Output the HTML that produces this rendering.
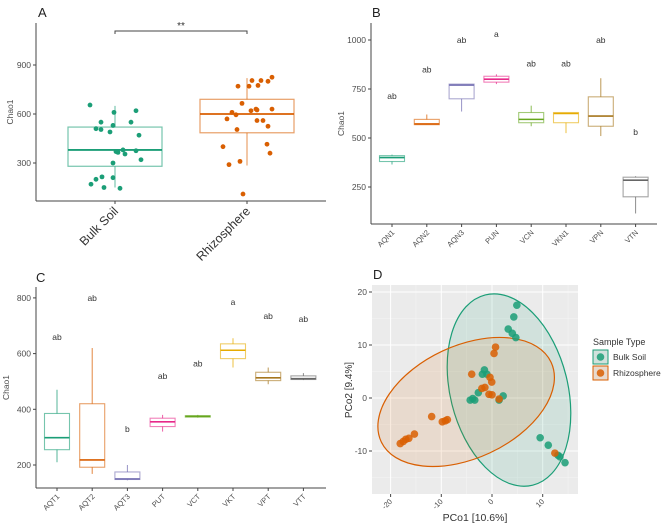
<!DOCTYPE html>
<html><head><meta charset="utf-8"><style>
body{margin:0;background:#fff;}
svg{display:block;font-family:"Liberation Sans",sans-serif;}
</style></head><body>
<svg id="fig" width="669" height="531" viewBox="0 0 669 531"></svg>
<script>
// ---------- Panel A data ----------
const aCats=["Bulk Soil","Rhizosphere"];
const aStats=[[150,280,380,520,650],[285,485,600,690,820]];
const aBulk=[655,510,505,550,610,530,490,620,550,470,370,365,380,355,375,320,300,210,215,200,170,150,145];
const aBulkJit=[-25,-19,-14,-14,-1,-2,-5,21,16,24,1,3,8,10,21,26,-2,-2,-13,-19,-24,-11,5];
const aRhizo=[770,770,805,775,805,800,825,665,610,595,570,620,630,625,630,560,560,525,505,400,415,360,310,290,110];
const aRhizoJit=[-9,2,5,11,14,21,25,-5,-15,-11,-20,4,9,10,25,10,16,21,-10,-24,20,23,-7,-18,-4];
const aTicks=[300,600,900];
// ---------- Panel B data ----------
const bCats=["AQN1","AQN2","AQN3","PUN","VCN","VKN1","VPN","VTN"];
const bStats=[[365,380,400,410,415],[568,568,572,595,620],[635,700,770,775,775],[775,785,800,815,825],[560,578,595,630,665],[525,578,625,630,630],[510,560,612,710,805],[115,200,285,300,305]];
const bLetters=["ab","ab","ab","a","ab","ab","ab","b"];
const bLetterY=[714,850,1000,1030,880,880,1000,530];
const bTicks=[250,500,750,1000];
// ---------- Panel C data ----------
const cCats=["AQT1","AQT2","AQT3","PUT","VCT","VKT","VPT","VTT"];
const cStats=[[210,255,298,385,470],[168,192,218,420,620],[145,148,150,175,200],[320,338,355,368,380],[370,372,375,377,380],[550,582,612,635,655],[490,503,513,533,550],[505,507,510,520,530]];
const cLetters=["ab","ab","b","ab","ab","a","ab","ab"];
const cLetterY=[660,800,330,520,565,785,735,725];
const cTicks=[200,400,600,800];
// ---------- Panel D data ----------
const dBulkX=[4.9,4.3,3.2,4.0,4.7,-1.5,-1.9,-1.0,-2.7,-4.3,-3.4,-3.8,2.2,1.4,9.5,11.1,13.0,13.4,14.4];
const dBulkY=[17.5,15.3,13,12.2,11.4,5.3,4.5,4.5,1.0,-0.4,-0.4,-0.1,0.4,-0.4,-7.5,-8.9,-10.8,-11.1,-12.2];
const dRhizoX=[0.7,0.4,-4.0,-0.4,-0.05,-1.4,-2.0,-0.6,0.0,1.4,-11.9,-9.8,-9.2,-8.8,-15.3,-16.4,-17.0,-17.5,-18.1,12.4];
const dRhizoY=[9.6,8.4,4.5,3.9,3.0,2.0,1.8,0.7,0.6,-0.2,-3.5,-4.5,-4.3,-4.1,-6.8,-7.6,-7.8,-8.2,-8.6,-10.4];
const dXTicks=[-20,-10,0,10];
const dYTicks=[-10,0,10,20];
const dEllBulk=[3.35,1.5,11.6,18.5,-14]; // cx, cy, semi-x, semi-y (data units), angle
const dEllRhizo=[-5.1,-0.75,18.5,10.6,-25];

const PAL=["#1B9E77","#D95F02","#7570B3","#E7298A","#66A61E","#E6AB02","#A6761D","#666666"];
const NS="http://www.w3.org/2000/svg";
const svg=document.getElementById('fig');
function mk(tag,attrs,parent,txt){const e=document.createElementNS(NS,tag);for(const k in attrs)e.setAttribute(k,attrs[k]);if(txt!==undefined)e.textContent=txt;(parent||svg).appendChild(e);return e;}
function grp(name){const g=mk('g',{});return g;}

// ===== Panel A =====
const yA=v=>163-(v-300)*49/300;
const xA=i=>115+i*132;
const gA=grp('panel-a');
let t=mk('text',{x:38,y:17,'font-size':13,fill:'#222'},gA,'A');

mk('line',{x1:36,y1:23,x2:36,y2:201,stroke:'#444','stroke-width':1},gA);
mk('line',{x1:36,y1:201,x2:326,y2:201,stroke:'#444','stroke-width':1},gA);
aTicks.forEach(v=>{mk('line',{x1:33,y1:yA(v),x2:36,y2:yA(v),stroke:'#444'},gA);
 t=mk('text',{x:31,y:yA(v)+3,'font-size':8.5,fill:'#4d4d4d','text-anchor':'end'},gA,String(v));
 });
t=mk('text',{x:13,y:112,'font-size':8.5,fill:'#4d4d4d','text-anchor':'middle',transform:'rotate(-90 13 112)'},gA,'Chao1');

aCats.forEach((c,i)=>{const x=xA(i),s=aStats[i],col=PAL[i];
 mk('line',{x1:x,y1:201,x2:x,y2:204,stroke:'#444'},gA);
 const b=mk('g',{},gA);
 mk('line',{x1:x,y1:yA(s[0]),x2:x,y2:yA(s[4]),stroke:col,'stroke-opacity':0.7},b);
 mk('rect',{x:x-47,y:yA(s[3]),width:94,height:yA(s[1])-yA(s[3]),fill:'#fff',stroke:col,'stroke-opacity':0.6,'stroke-width':1.2},b);
 mk('line',{x1:x-47,y1:yA(s[2]),x2:x+47,y2:yA(s[2]),stroke:col,'stroke-width':1.8},b);
 t=mk('text',{x:x+4,y:212,'font-size':12.5,fill:'#333','text-anchor':'end',transform:`rotate(-45 ${x+4} 212)`},gA,c);
 
});
[[aBulk,aBulkJit,0],[aRhizo,aRhizoJit,1]].forEach(([vals,jit,i])=>{vals.forEach((v,k)=>{
 const p=mk('circle',{cx:xA(i)+jit[k],cy:yA(v),r:2.4,fill:PAL[i]},gA);
 });});
const br=mk('path',{d:`M${xA(0)} 34 V31 H${xA(1)} V34`,fill:'none',stroke:'#444'},gA);

t=mk('text',{x:(xA(0)+xA(1))/2,y:29,'font-size':10,fill:'#333','text-anchor':'middle'},gA,'**');


// ===== Box panels B/C =====
function boxPanel(name,label,lx,ly,axX,axTop,axBot,axRight,x0,step,yf,cats,stats,letters,letterY,ticks){
 const g=grp(name);
 let t=mk('text',{x:lx,y:ly,'font-size':13,fill:'#222'},g,label);
 
 mk('line',{x1:axX,y1:axTop,x2:axX,y2:axBot,stroke:'#444'},g);
 mk('line',{x1:axX,y1:axBot,x2:axRight,y2:axBot,stroke:'#444'},g);
 ticks.forEach(v=>{mk('line',{x1:axX-3,y1:yf(v),x2:axX,y2:yf(v),stroke:'#444'},g);
  t=mk('text',{x:axX-5,y:yf(v)+3,'font-size':8.5,fill:'#4d4d4d','text-anchor':'end'},g,String(v));
  });
 const cy=(axTop+axBot)/2;
 t=mk('text',{x:axX-27,y:cy,'font-size':8.5,fill:'#4d4d4d','text-anchor':'middle',transform:`rotate(-90 ${axX-27} ${cy})`},g,'Chao1');
 
 cats.forEach((c,i)=>{const x=x0+i*step,s=stats[i],col=PAL[i];
  mk('line',{x1:x,y1:axBot,x2:x,y2:axBot+3,stroke:'#444'},g);
  const b=mk('g',{},g);
  mk('line',{x1:x,y1:yf(s[0]),x2:x,y2:yf(s[4]),stroke:col,'stroke-opacity':0.75},b);
  mk('rect',{x:x-12.5,y:yf(s[3]),width:25,height:Math.max(1,yf(s[1])-yf(s[3])),fill:'#fff',stroke:col,'stroke-opacity':0.6,'stroke-width':1.1},b);
  mk('line',{x1:x-12.5,y1:yf(s[2]),x2:x+12.5,y2:yf(s[2]),stroke:col,'stroke-width':1.6},b);
  t=mk('text',{x:x,y:yf(letterY[i])+3,'font-size':8.5,fill:'#333','text-anchor':'middle'},g,letters[i]);
  
  t=mk('text',{x:x+3,y:axBot+9,'font-size':7.5,fill:'#4d4d4d','text-anchor':'end',transform:`rotate(-45 ${x+3} ${axBot+9})`},g,c);
  
 });
}
boxPanel('panel-b','B',372,17,371,23,224,657,392,34.8,v=>138-(v-500)*49/250,bCats,bStats,bLetters,bLetterY,bTicks);
boxPanel('panel-c','C',36,282,36,287,488,326,57,35.2,v=>465-(v-200)*55.7/200,cCats,cStats,cLetters,cLetterY,cTicks);

// ===== Panel D =====
const xD=v=>492+v*5.07, yD=v=>398-v*5.3;
const gD=grp('panel-d');
t=mk('text',{x:373,y:279,'font-size':13,fill:'#222'},gD,'D');

const bg=mk('rect',{x:372,y:285,width:206,height:209,fill:'#ebebeb'},gD);

[-15,-5,5,15].forEach(v=>{mk('line',{x1:xD(v),y1:285,x2:xD(v),y2:494,stroke:'#f5f5f5','stroke-width':0.5},gD);});
[-15,-5,5,15].forEach(v=>{mk('line',{x1:372,y1:yD(v),x2:578,y2:yD(v),stroke:'#f5f5f5','stroke-width':0.5},gD);});
dXTicks.forEach(v=>{mk('line',{x1:xD(v),y1:285,x2:xD(v),y2:494,stroke:'#fff','stroke-width':1},gD);
 mk('line',{x1:xD(v),y1:494,x2:xD(v),y2:497,stroke:'#444'},gD);
 t=mk('text',{x:xD(v)+2,y:502,'font-size':7.5,fill:'#4d4d4d','text-anchor':'end',transform:`rotate(-45 ${xD(v)+2} 502)`},gD,String(v));
 });
dYTicks.forEach(v=>{mk('line',{x1:372,y1:yD(v),x2:578,y2:yD(v),stroke:'#fff','stroke-width':1},gD);
 mk('line',{x1:369,y1:yD(v),x2:372,y2:yD(v),stroke:'#444'},gD);
 t=mk('text',{x:367,y:yD(v)+3,'font-size':8.5,fill:'#4d4d4d','text-anchor':'end'},gD,String(v));
 });
function ell(e,col,name){const cx=xD(e[0]),cy=yD(e[1]);
 const el=mk('ellipse',{cx:cx,cy:cy,rx:e[2]*5.07,ry:e[3]*5.3,fill:col,'fill-opacity':0.12,stroke:col,'stroke-width':1.2,transform:`rotate(${e[4]} ${cx} ${cy})`},gD);
 }
ell(dEllBulk,PAL[0],'ellipse-bulk-soil');
ell(dEllRhizo,PAL[1],'ellipse-rhizosphere');
dBulkX.forEach((x,k)=>{const p=mk('circle',{cx:xD(x),cy:yD(dBulkY[k]),r:3.8,fill:PAL[0],'fill-opacity':0.85},gD);
 });
dRhizoX.forEach((x,k)=>{const p=mk('circle',{cx:xD(x),cy:yD(dRhizoY[k]),r:3.8,fill:PAL[1],'fill-opacity':0.85},gD);
 });
t=mk('text',{x:475,y:521,'font-size':10.5,fill:'#333','text-anchor':'middle'},gD,'PCo1 [10.6%]');

t=mk('text',{x:352,y:390,'font-size':10,fill:'#333','text-anchor':'middle',transform:'rotate(-90 352 390)'},gD,'PCo2 [9.4%]');

// legend
const lg=grp('legend');
t=mk('text',{x:593,y:345,'font-size':9,fill:'#333'},lg,'Sample Type');

[["Bulk Soil",0,350],["Rhizosphere",1,366]].forEach(([lab,i,y])=>{
 const e=mk('g',{},lg);
 mk('rect',{x:593,y:y,width:15,height:14,fill:'#ebebeb',stroke:PAL[i],'stroke-width':1},e);
 mk('rect',{x:593,y:y,width:15,height:14,fill:PAL[i],'fill-opacity':0.12},e);
 mk('circle',{cx:600.5,cy:y+7,r:3.8,fill:PAL[i],'fill-opacity':0.85},e);
 mk('text',{x:613,y:y+10,'font-size':8.5,fill:'#333'},e,lab);
});
</script>
</body></html>
